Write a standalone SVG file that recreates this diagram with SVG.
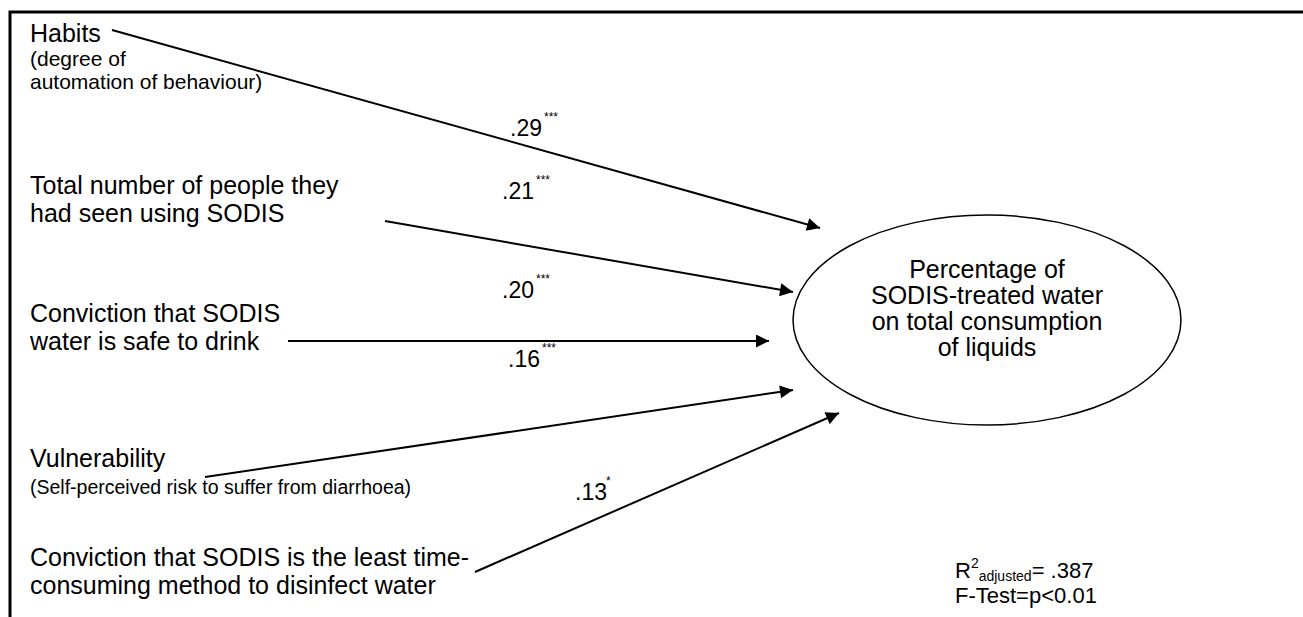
<svg xmlns="http://www.w3.org/2000/svg" width="1303" height="617" viewBox="0 0 1303 617">
<defs>
<style>
text{font-family:"Liberation Sans",Arial,sans-serif;fill:#000}
.m{font-size:25px}
.s{font-size:21px}
.v{font-size:19.5px}
.c{font-size:23px}
.st{font-size:12px}
.e{font-size:25px;text-anchor:middle}
.r{font-size:22px}
.ln{stroke:#000;stroke-width:2;fill:none}
</style>
<marker id="ah" viewBox="0 0 10 10" refX="10" refY="5" markerUnits="userSpaceOnUse" markerWidth="17" markerHeight="13" orient="auto">
<path d="M0,0 L10,5 L0,10 Z" fill="#000"/>
</marker>
</defs>
<rect width="1303" height="617" fill="#fff"/>
<g id="frame">
<path d="M10,617 L10,12 L1303,12" stroke="#000" stroke-width="3" fill="none"/>
</g>
<g id="connectors">
<line class="ln" x1="112" y1="30" x2="820" y2="228" marker-end="url(#ah)"/>
<line class="ln" x1="385" y1="221" x2="793" y2="292" marker-end="url(#ah)"/>
<line class="ln" x1="288" y1="341" x2="769" y2="341" stroke-width="3" marker-end="url(#ah)"/>
<line class="ln" x1="205" y1="477" x2="793" y2="390" marker-end="url(#ah)"/>
<line class="ln" x1="475" y1="572" x2="839" y2="413" marker-end="url(#ah)"/>
</g>
<g id="coef-labels">
<text class="c" x="510" y="136">.29</text><text class="st" x="544" y="121">***</text>
<text class="c" x="502" y="199">.21</text><text class="st" x="536" y="184">***</text>
<text class="c" x="502" y="298">.20</text><text class="st" x="536" y="283">***</text>
<text class="c" x="508" y="367">.16</text><text class="st" x="542" y="352">***</text>
<text class="c" x="575" y="500">.13</text><text class="st" x="606" y="485">*</text>
</g>
<g id="habits">
<text class="m" x="30" y="42">Habits</text>
<text class="s" x="30" y="66">(degree of</text>
<text class="s" x="30" y="89">automation of behaviour)</text>
</g>
<g id="people-seen">
<text class="m" x="30" y="194">Total number of people they</text>
<text class="m" x="30" y="222">had seen using SODIS</text>
</g>
<g id="safe-to-drink">
<text class="m" x="30" y="322">Conviction that SODIS</text>
<text class="m" x="30" y="350">water is safe to drink</text>
</g>
<g id="vulnerability">
<text class="m" x="30" y="467">Vulnerability</text>
<text class="v" x="30" y="494">(Self-perceived risk to suffer from diarrhoea)</text>
</g>
<g id="least-time">
<text class="m" x="30" y="566">Conviction that SODIS is the least time-</text>
<text class="m" x="30" y="594">consuming method to disinfect water</text>
</g>
<g id="outcome">
<ellipse cx="987" cy="320" rx="194" ry="105" fill="none" stroke="#000" stroke-width="1.5"/>
<text class="e" x="987" y="278">Percentage of</text>
<text class="e" x="987" y="304">SODIS-treated water</text>
<text class="e" x="987" y="330">on total consumption</text>
<text class="e" x="987" y="356">of liquids</text>
</g>
<g id="stats">
<text class="r" x="955" y="578">R<tspan font-size="14" dy="-10">2</tspan><tspan font-size="14" dy="13">adjusted</tspan><tspan dy="-3">= .387</tspan></text>
<text class="r" x="955" y="603">F-Test=p&lt;0.01</text>
</g>
</svg>
